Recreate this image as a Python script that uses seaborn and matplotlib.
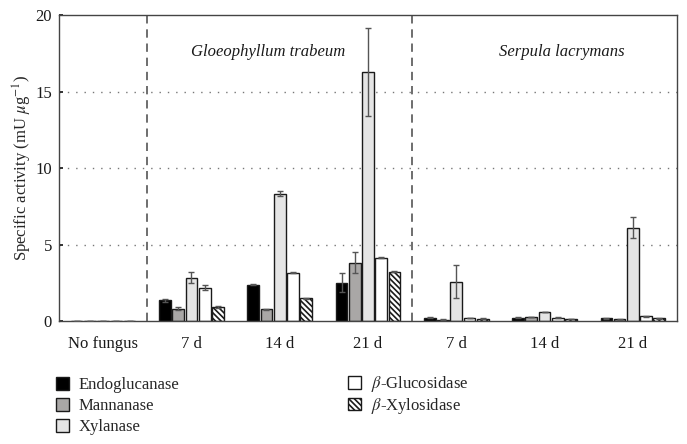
import numpy as np
import pandas as pd
import matplotlib
matplotlib.use("Agg")
import matplotlib.pyplot as plt
import seaborn as sns
from matplotlib.patches import Patch

# ---- data ----
groups = ["NF", "GT7", "GT14", "GT21", "SL7", "SL14", "SL21"]
group_labels = ["No fungus", "7 d", "14 d", "21 d", "7 d", "14 d", "21 d"]
enzymes = ["Endoglucanase", "Mannanase", "Xylanase", r"$\beta$-Glucosidase", r"$\beta$-Xylosidase"]

endo = [0.03, 1.35, 2.38, 2.51, 0.22, 0.22, 0.18]
mann = [0.03, 0.81, 0.76, 3.82, 0.08, 0.26, 0.10]
xyl = [0.03, 2.84, 8.33, 16.30, 2.58, 0.59, 6.10]
gluc = [0.03, 2.18, 3.16, 4.14, 0.20, 0.22, 0.31]
xylos = [0.03, 0.90, 1.48, 3.23, 0.15, 0.13, 0.17]

endo_err = [0.0, 0.12, 0.03, 0.60, 0.03, 0.03, 0.03]
mann_err = [0.0, 0.10, 0.03, 0.67, 0.02, 0.03, 0.02]
xyl_err = [0.0, 0.38, 0.14, 2.87, 1.05, 0.03, 0.70]
gluc_err = [0.0, 0.16, 0.05, 0.05, 0.02, 0.02, 0.05]
xylos_err = [0.0, 0.05, 0.03, 0.05, 0.02, 0.02, 0.02]

values = [endo, mann, xyl, gluc, xylos]
errors = [endo_err, mann_err, xyl_err, gluc_err, xylos_err]

colors = ["#000000", "#a9a7a6", "#e5e5e5", "#ffffff", "#ffffff"]
hatches = [None, None, None, None, "\\\\\\\\\\\\"]

rows = []
for e, vals in zip(enzymes, values):
    for g, v in zip(groups, vals):
        rows.append({"group": g, "enzyme": e, "value": v})
df = pd.DataFrame(rows)

sns.set_theme(style="white")
plt.rcParams["font.family"] = ["Liberation Serif", "DejaVu Serif"]
plt.rcParams["mathtext.fontset"] = "stix"
plt.rcParams["hatch.linewidth"] = 1.2

FS = 12

fig = plt.figure(figsize=(6.87, 4.44), dpi=100)
ax = fig.add_axes([0.0859, 0.277, 0.8995, 0.689])

sns.barplot(data=df, x="group", y="value", hue="enzyme", order=groups,
            hue_order=enzymes, palette=colors, errorbar=None, width=0.75,
            gap=0.12, edgecolor="#1a1a1a", linewidth=1.0, legend=False, ax=ax)

for cont, errs, h in zip(ax.containers, errors, hatches):
    xs, ys = [], []
    for p, err in zip(cont.patches, errs):
        if h:
            p.set_hatch(h)
        xs.append(p.get_x() + p.get_width() / 2)
        ys.append(p.get_height())
    ax.errorbar(xs, ys, yerr=errs, fmt="none", ecolor="#555555",
                elinewidth=1.0, capsize=2.5, capthick=1.0, zorder=5)

ax.set_xlim(-0.5, 6.5)
ax.set_ylim(0, 20)
ax.set_yticks([0, 5, 10, 15, 20])
ax.set_yticklabels(["0", "5", "10", "15", "20"])
ax.set_xticks(range(len(groups)))
ax.set_xticklabels(group_labels)
ax.set_xlabel("")
ax.set_ylabel(r"Specific activity (mU $\mu$g$^{-1}$)", fontsize=FS, labelpad=1)
ax.tick_params(axis="both", labelsize=FS, colors="#1a1a1a")
ax.tick_params(axis="x", length=0, pad=11)
ax.tick_params(axis="y", length=3, direction="in", pad=5, left=True)

for y in [5, 10, 15]:
    ax.axhline(y, color="#777777", linestyle=(0, (1, 5)), linewidth=1.0, zorder=0)
for x in [0.5, 3.5]:
    ax.axvline(x, color="#555555", linestyle=(0, (5, 3.5)), linewidth=1.2, zorder=0)

for s in ax.spines.values():
    s.set_visible(True)
    s.set_color("#444444")
    s.set_linewidth(1.0)

ax.text(1.87, 17.6, "Gloeophyllum trabeum", style="italic", fontsize=FS,
        ha="center", va="center", color="#1a1a1a")
ax.text(5.19, 17.6, "Serpula lacrymans", style="italic", fontsize=FS,
        ha="center", va="center", color="#1a1a1a")

handles = [Patch(facecolor=c, edgecolor="#1a1a1a", hatch=h, linewidth=1.0)
           for c, h in zip(colors, hatches)]
leg1 = fig.legend(handles[:3], enzymes[:3], loc="upper left",
                  bbox_to_anchor=(0.072, 0.165), frameon=False, fontsize=FS,
                  handlelength=0.75, handleheight=0.75, handletextpad=0.6,
                  labelspacing=0.3, borderaxespad=0)
leg2 = fig.legend(handles[3:], enzymes[3:], loc="upper left",
                  bbox_to_anchor=(0.497, 0.172), frameon=False, fontsize=FS,
                  handlelength=0.75, handleheight=0.75, handletextpad=0.6,
                  labelspacing=0.1, borderaxespad=0)

fig.savefig("out.png", dpi=100)
